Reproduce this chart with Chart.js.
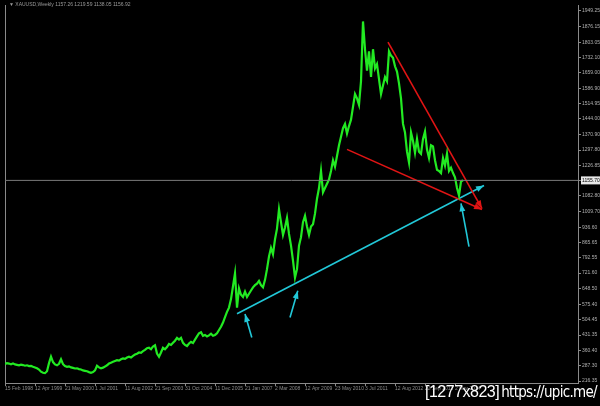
<!DOCTYPE html>
<html>
<head>
<meta charset="utf-8">
<script src="https://cdn.jsdelivr.net/npm/chart.js@4.4.1/dist/chart.umd.min.js"></script>
<style>
  html, body { margin: 0; padding: 0; background: #000; }
  #wrap { position: relative; width: 600px; height: 406px; background: #000; overflow: hidden; }
  #title { position: absolute; left: 9px; top: 1px; font: 5px "Liberation Sans", Arial, sans-serif; color: #9a9a9a; white-space: nowrap; }
  #mark { position: absolute; left: 425px; top: 383px; color: #fff; white-space: nowrap; }
  #mark .a { font: 16px "Liberation Sans", Arial, sans-serif; letter-spacing: -0.5px; }
  #mark .b { font: 15px "DejaVu Sans Condensed", "DejaVu Sans", sans-serif; letter-spacing: -0.7px; margin-left: 2px; }
</style>
</head>
<body>
<div id="wrap">
  <canvas id="c" width="600" height="406"></canvas>
  <div id="title">▼ XAUUSD,Weekly 1157.26 1219.59 1138.05 1156.92</div>
  <div id="mark"><span class="a">[1277x823]</span><span class="b">https://upic.me/</span></div>
</div>
<script>
// ---- data (weekly gold, one sample per step) ----
const closes = [
  296,300,298,295,299,294,292,290,293,291,
  288,290,286,287,283,280,276,270,260,255,
  253,262,300,330,305,294,290,297,318,295,
  286,283,285,280,278,275,276,272,270,266,
  264,262,258,255,258,266,288,280,276,279,
  284,290,298,302,306,310,314,312,318,322,
  320,326,330,326,334,340,344,350,348,356,
  362,370,372,365,378,384,345,330,350,372,
  365,375,390,385,395,405,418,410,418,395,
  385,380,392,400,394,410,425,440,445,428,
  432,425,430,438,428,432,440,455,470,490,
  515,540,560,600,660,720,560,650,620,610,
  635,610,625,640,655,665,672,685,665,655,
  690,740,800,840,810,880,930,1020,960,900,
  935,980,905,850,780,700,740,850,890,960,
  990,940,900,940,950,1000,1070,1120,1200,1100,
  1120,1140,1160,1200,1250,1220,1270,1320,1360,1400,
  1420,1375,1410,1440,1500,1560,1540,1510,1620,1900,
  1770,1670,1760,1640,1770,1680,1700,1630,1560,1600,
  1640,1620,1760,1740,1730,1690,1665,1610,1540,1420,
  1380,1290,1240,1380,1340,1285,1350,1290,1280,1350,
  1385,1300,1260,1320,1315,1250,1205,1200,1190,1260,
  1225,1280,1200,1215,1190,1170,1120,1085,1150,1157
];
const currentPrice = 1155.70;
const priceTicks = [216.35,287.30,360.40,431.35,504.45,575.40,648.50,721.60,792.55,865.65,
  936.60,1009.70,1082.80,1155.70,1226.85,1297.80,1370.90,1444.00,1514.95,1586.90,
  1659.00,1732.10,1803.05,1876.15,1949.25];
const dateTickIdx = [0,15,30,45,60,75,90,105,120,135,150,165,180,195,210,225];
const dateLabels = ['15 Feb 1998','12 Apr 1999','21 May 2000','1 Jul 2001','11 Aug 2002','21 Sep 2003',
  '31 Oct 2004','11 Dec 2005','21 Jan 2007','2 Mar 2008','12 Apr 2009','23 May 2010',
  '3 Jul 2011','12 Aug 2012','22 Sep 2013','2 Nov 2014'];
// trend lines drawn on the chart: [startIndex, startPrice, endIndex, endPrice]
const supportLine   = [116, 531, 239.5, 1132];
const upperWedge    = [191.5, 1803, 238.5, 1024];
const lowerWedge    = [171, 1301, 238.5, 1019];
const arrowMarks    = [[123.4, 420, 120, 530], [142.5, 514, 146.4, 639], [232, 846, 228, 1048]];
const xRange = [0, 286.5];
const yRange = [207, 1977];

const seg = (s) => [{x: s[0], y: s[1]}, {x: s[2], y: s[3]}];
const CYAN = '#22c8d8', RED = '#e01414', GREEN = '#22ea22';

const datasets = [
  { data: [{x: xRange[0], y: currentPrice}, {x: xRange[1], y: currentPrice}], borderColor: '#7a7a7a', borderWidth: 1, pointRadius: 0 },
  { data: closes.map((v, i) => ({x: i, y: v})), borderColor: GREEN, borderWidth: 2.2, pointRadius: 0 },
  { data: seg(upperWedge), borderColor: RED, borderWidth: 1.6, pointRadius: 0, arrow: true },
  { data: seg(lowerWedge), borderColor: RED, borderWidth: 1.6, pointRadius: 0, arrow: true },
  { data: seg(supportLine), borderColor: CYAN, borderWidth: 1.6, pointRadius: 0, arrow: true },
];
arrowMarks.forEach(a => datasets.push({ data: seg(a), borderColor: CYAN, borderWidth: 1.6, pointRadius: 0, arrow: true }));

const arrowPlugin = {
  id: 'arrows',
  afterDatasetsDraw(chart) {
    const ctx = chart.ctx;
    chart.data.datasets.forEach((ds, di) => {
      if (!ds.arrow) return;
      const pts = chart.getDatasetMeta(di).data;
      const p0 = pts[pts.length - 2], p1 = pts[pts.length - 1];
      const ang = Math.atan2(p1.y - p0.y, p1.x - p0.x);
      const L = 8, W = 3;
      ctx.save();
      ctx.fillStyle = ds.borderColor;
      ctx.beginPath();
      ctx.moveTo(p1.x, p1.y);
      ctx.lineTo(p1.x - L * Math.cos(ang) + W * Math.sin(ang), p1.y - L * Math.sin(ang) - W * Math.cos(ang));
      ctx.lineTo(p1.x - L * Math.cos(ang) - W * Math.sin(ang), p1.y - L * Math.sin(ang) + W * Math.cos(ang));
      ctx.closePath();
      ctx.fill();
      ctx.restore();
    });
  }
};
const bgPlugin = {
  id: 'bg',
  beforeDraw(chart) {
    const ctx = chart.ctx;
    ctx.save(); ctx.fillStyle = '#000'; ctx.fillRect(0, 0, chart.width, chart.height); ctx.restore();
  }
};

const tickFont = { family: '"Liberation Sans", Arial, sans-serif', size: 5 };
new Chart(document.getElementById('c'), {
  type: 'line',
  data: { datasets },
  plugins: [bgPlugin, arrowPlugin],
  options: {
    responsive: false,
    animation: false,
    events: [],
    layout: { padding: { top: 5, left: 0, right: 0, bottom: 0 } },
    plugins: { legend: { display: false }, tooltip: { enabled: false } },
    elements: { line: { tension: 0, borderJoinStyle: 'miter' } },
    scales: {
      x: {
        type: 'linear', min: xRange[0], max: xRange[1],
        border: { color: '#8a8a8a', width: 1 },
        grid: { drawOnChartArea: false, color: '#8a8a8a', tickLength: 3 },
        afterBuildTicks: s => { s.ticks = dateTickIdx.map(v => ({ value: v })); },
        afterFit: s => { s.height = 23; },
        ticks: {
          autoSkip: false, maxRotation: 0, minRotation: 0, align: 'start', padding: 0,
          color: '#8a8a8a', font: tickFont,
          callback: (v, i) => dateLabels[i]
        }
      },
      yl: {
        position: 'left', min: yRange[0], max: yRange[1],
        border: { color: '#8a8a8a', width: 1 },
        grid: { display: false },
        ticks: { display: false },
        afterFit: s => { s.width = 5; }
      },
      y: {
        position: 'right', min: yRange[0], max: yRange[1],
        border: { color: '#8a8a8a', width: 1 },
        grid: { drawOnChartArea: false, color: '#8a8a8a', tickLength: 3 },
        afterBuildTicks: s => { s.ticks = priceTicks.map(v => ({ value: v })); },
        afterFit: s => { s.width = 22; },
        ticks: {
          autoSkip: false, padding: 1, font: tickFont,
          color: c => (c.tick && c.tick.value === currentPrice) ? '#000' : '#b0b0b0',
          showLabelBackdrop: true,
          backdropPadding: { top: 1, bottom: 1, left: 1, right: 1 },
          backdropColor: c => (c.tick && c.tick.value === currentPrice) ? '#e8e8e8' : 'rgba(0,0,0,0)',
          callback: v => v.toFixed(2)
        }
      }
    }
  }
});
</script>
</body>
</html>
